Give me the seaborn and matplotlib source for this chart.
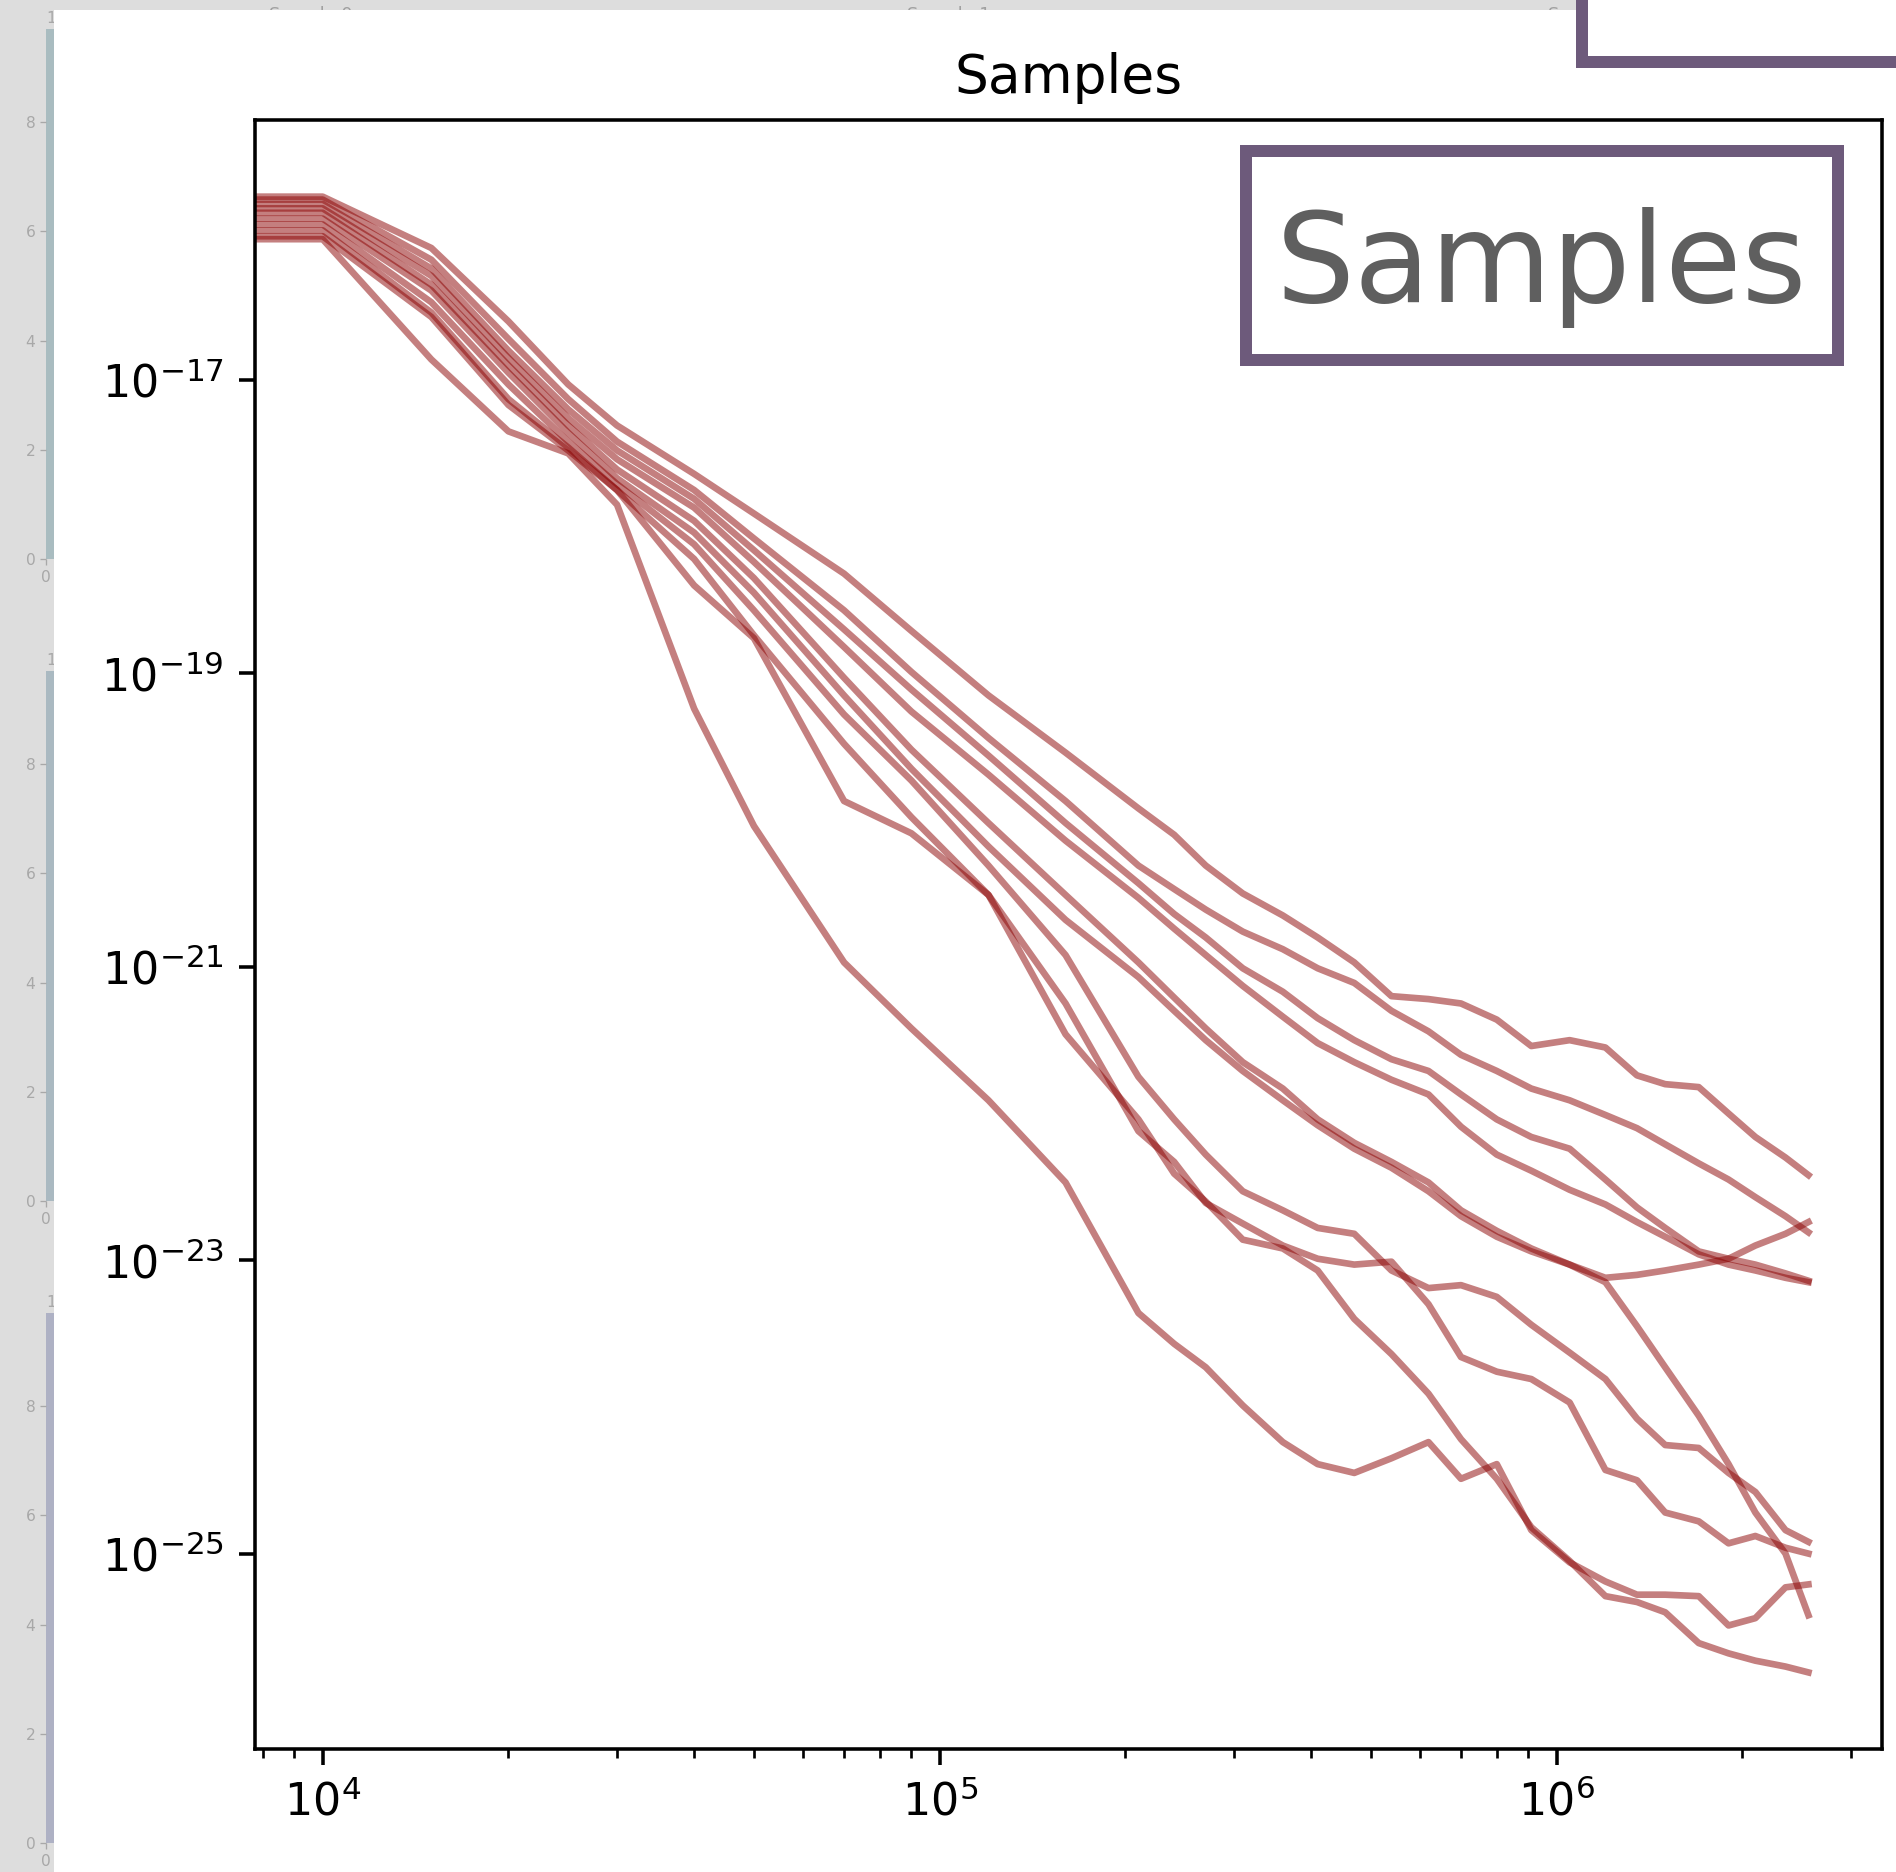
import numpy as np
import pandas as pd
import matplotlib
matplotlib.use("Agg")
import matplotlib.pyplot as plt
import seaborn as sns
from matplotlib.patches import Rectangle
from matplotlib.ticker import FixedLocator, NullLocator

W, H, DPI = 1896, 1872, 320

# sample counts shared by every run (a plateau point sits at 5e3, off the left edge)
plateau_n = 5e3
n_steps = [1e4, 1.5e4, 2e4, 2.5e4, 3e4, 4e4, 5e4, 7e4, 9e4, 1.2e5, 1.6e5, 2.1e5,
           2.4e5, 2.7e5, 3.1e5, 3.6e5, 4.1e5, 4.7e5, 5.4e5, 6.2e5, 7e5, 8e5,
           9.1e5, 1.05e6, 1.2e6, 1.35e6, 1.5e6, 1.7e6, 1.9e6, 2.1e6, 2.35e6, 2.56e6]

# log10 of the error for each sample run
run_a = [-15.75, -16.10, -16.60, -17.03, -17.31, -17.64, -17.91, -18.32, -18.71, -19.15, -19.54, -19.92,
         -20.10, -20.31, -20.50, -20.65, -20.80, -20.97, -21.20, -21.22, -21.25, -21.36,
         -21.54, -21.50, -21.55, -21.74, -21.80, -21.82, -22.00, -22.16, -22.30, -22.42]
run_b = [-15.86, -16.35, -16.90, -17.31, -17.61, -17.96, -18.35, -19.03, -19.52, -20.02, -20.51, -20.97,
         -21.21, -21.42, -21.65, -21.83, -22.04, -22.20, -22.33, -22.47, -22.66, -22.80,
         -22.92, -23.03, -23.12, -23.10, -23.07, -23.03, -22.99, -22.90, -22.82, -22.74]
run_c = [-15.77, -16.18, -16.72, -17.13, -17.42, -17.75, -18.08, -18.57, -18.99, -19.44, -19.87, -20.31,
         -20.47, -20.61, -20.76, -20.88, -21.01, -21.11, -21.30, -21.44, -21.60, -21.71,
         -21.83, -21.91, -22.01, -22.10, -22.21, -22.34, -22.45, -22.57, -22.70, -22.81]
run_d = [-15.80, -16.24, -16.80, -17.20, -17.48, -17.81, -18.16, -18.70, -19.11, -19.56, -20.02, -20.43,
         -20.64, -20.80, -21.01, -21.17, -21.35, -21.50, -21.63, -21.71, -21.87, -22.04,
         -22.16, -22.24, -22.45, -22.64, -22.78, -22.94, -22.99, -23.03, -23.09, -23.14]
run_e = [-15.83, -16.29, -16.85, -17.26, -17.54, -17.87, -18.24, -18.82, -19.26, -19.69, -20.14, -20.53,
         -20.74, -20.92, -21.13, -21.34, -21.52, -21.65, -21.77, -21.87, -22.09, -22.28,
         -22.39, -22.52, -22.62, -22.74, -22.84, -22.96, -23.03, -23.07, -23.12, -23.15]
run_f = [-15.90, -16.39, -16.95, -17.36, -17.67, -18.04, -18.45, -19.15, -19.65, -20.18, -20.68, -21.07,
         -21.30, -21.50, -21.71, -21.91, -22.08, -22.24, -22.37, -22.53, -22.70, -22.84,
         -22.94, -23.03, -23.15, -23.45, -23.73, -24.06, -24.39, -24.72, -25.00, -25.42]
run_g = [-15.94, -16.47, -17.03, -17.42, -17.71, -18.12, -18.57, -19.28, -19.73, -20.31, -20.92, -21.75,
         -22.04, -22.28, -22.53, -22.66, -22.78, -22.82, -23.07, -23.19, -23.17, -23.25,
         -23.44, -23.63, -23.81, -24.08, -24.26, -24.28, -24.45, -24.58, -24.84, -24.92]
run_h = [-15.98, -16.54, -17.13, -17.46, -17.75, -18.22, -18.74, -19.48, -19.98, -20.51, -21.25, -22.12,
         -22.33, -22.61, -22.75, -22.90, -22.99, -23.03, -23.01, -23.30, -23.66, -23.76,
         -23.81, -23.97, -24.43, -24.50, -24.72, -24.78, -24.93, -24.88, -24.96, -25.00]
run_i = [-16.02, -16.57, -17.17, -17.48, -17.75, -18.40, -18.76, -19.87, -20.09, -20.51, -21.46, -22.04,
         -22.41, -22.60, -22.86, -22.92, -23.07, -23.40, -23.64, -23.91, -24.22, -24.49,
         -24.82, -25.05, -25.29, -25.33, -25.40, -25.61, -25.68, -25.73, -25.77, -25.81]
run_j = [-16.04, -16.86, -17.35, -17.50, -17.85, -19.24, -20.04, -20.97, -21.42, -21.91, -22.47, -23.36,
         -23.57, -23.73, -23.99, -24.24, -24.39, -24.45, -24.35, -24.24, -24.49, -24.39,
         -24.84, -25.06, -25.19, -25.28, -25.28, -25.29, -25.49, -25.44, -25.23, -25.21]
runs = [run_a, run_b, run_c, run_d, run_e, run_f, run_g, run_h, run_i, run_j]

# faint thumbnails on the left
thumb_ticks = [0, 2, 4, 6, 8]
thumb_titles = ["Sample 0", "Sample 1", "Sample 2"]


def px_rect(x0, y0, x1, y1):
    return [x0 / W, 1 - y1 / H, (x1 - x0) / W, (y1 - y0) / H]


fig = plt.figure(figsize=(W / DPI, H / DPI), dpi=DPI, facecolor="#dddddd")

# left thumbnails (mostly hidden behind the white panel)
thumb_colors = ["#a9bcc0", "#aab9c1", "#aeb1c4"]
for k, y0 in enumerate([559, 1201, 1843]):
    top = y0 - 9.7 * 54.6
    tax = fig.add_axes(px_rect(46, top, 400, y0), zorder=0)
    tax.set_facecolor(thumb_colors[k])
    tax.set_ylim(0, 9.7)
    tax.set_xlim(0, 10)
    tax.set_yticks(thumb_ticks)
    tax.set_xticks([0])
    for s in tax.spines.values():
        s.set_visible(False)
    tax.tick_params(colors="#a8a8a8", labelsize=3.5, length=1.4, width=0.3, pad=1.0)
    fig.text(46 / W, 1 - (top - 3) / H, "1", fontsize=3.5, color="#a8a8a8",
             ha="left", va="bottom", zorder=0.2)

for title, xc in zip(thumb_titles, [311, 949, 1590]):
    fig.text(xc / W, 1 - 6 / H, title, fontsize=4, color="#a0a0a0",
             ha="center", va="top", zorder=0.2)

# white panel holding the main chart
fig.add_artist(Rectangle((54 / W, 0), 1, 1 - 10 / H, transform=fig.transFigure,
                         facecolor="white", edgecolor="none", zorder=0.5))

# main chart
ax = fig.add_axes(px_rect(255, 120, 1882, 1749), zorder=1)
ax.set_facecolor("white")

rows = []
for idx, logs in enumerate(runs):
    for n, v in zip([plateau_n] + n_steps, [logs[0]] + logs):
        rows.append((f"sample {idx}", n, 10.0 ** v))
df = pd.DataFrame(rows, columns=["sample", "n", "err"])

sns.lineplot(data=df, x="n", y="err", units="sample", estimator=None,
             color="#8b0000", alpha=0.5, linewidth=1.5, sort=False,
             legend=False, ax=ax)
ax.set_xscale("log")
ax.set_yscale("log")
ax.set_xlim(7767, 3.369e6)
ax.set_ylim(10 ** -26.332, 10 ** -15.2275)
ax.yaxis.set_major_locator(FixedLocator([1e-25, 1e-23, 1e-21, 1e-19, 1e-17]))
ax.yaxis.set_minor_locator(NullLocator())
ax.set_xlabel("")
ax.set_ylabel("")
ax.set_title("Samples")

# framed label in the corner
fig.add_artist(Rectangle((1246 / W, 1 - 360 / H), (1838 - 1246) / W, (360 - 151) / H,
                         transform=fig.transFigure, facecolor="white",
                         edgecolor="#6d5a7b", linewidth=12 * 72 / DPI, zorder=5))
fig.text(1542 / W, 1 - 302 / H, "Samples", ha="center", va="baseline",
         fontsize=28, color="#5f5f5f", zorder=6)

# neighbouring frame cut off at the top edge
fig.add_artist(Rectangle((1582 / W, 1 - 62 / H), (2000 - 1582) / W, (62 + 60) / H,
                         transform=fig.transFigure, facecolor="white",
                         edgecolor="#6d5a7b", linewidth=12 * 72 / DPI, zorder=5))

fig.savefig("out.png", dpi=DPI, facecolor=fig.get_facecolor())
